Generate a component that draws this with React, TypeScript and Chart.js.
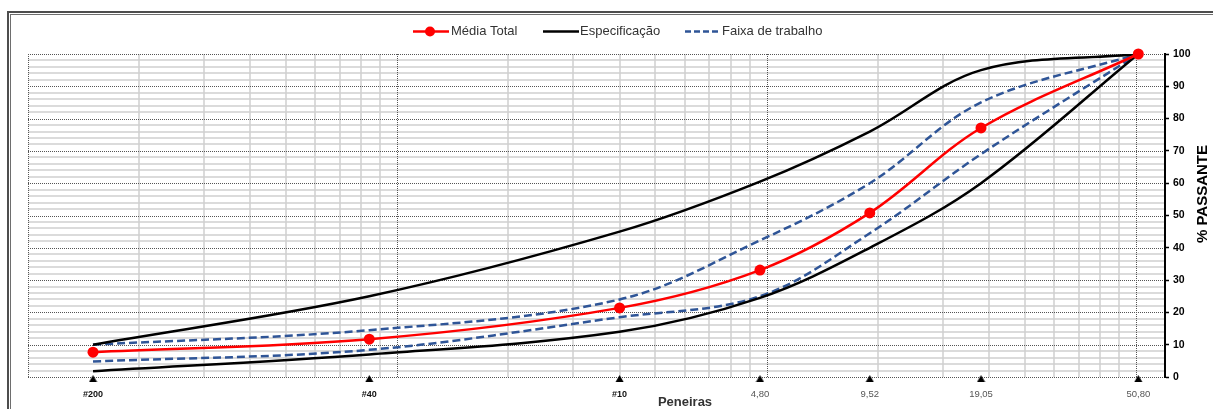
import { useEffect, useRef } from "react";
import { Chart, registerables } from "chart.js";

Chart.register(...registerables);

// Peneiras (abertura em mm) e seus rótulos
const sieveSizes = [0.075, 0.42, 2.0, 4.8, 9.52, 19.05, 50.8];
const sieveLabels = ["#200", "#40", "#10", "4,80", "9,52", "19,05", "50,80"];

// % passante
const mediaTotal = [7.7, 11.7, 21.4, 33.1, 50.8, 77.1, 100];
const especSuperior = [10, 25, 45, 60.5, 76, 95, 100];
const especInferior = [1.8, 7, 14, 24.5, 40, 60, 100];
const faixaSuperior = [10, 14.5, 24, 42.3, 60, 85, 100];
const faixaInferior = [4.8, 8.4, 18.5, 25, 44.5, 69, 100];
const sieveMarks = [0, 0, 0, 0, 0, 0, 0];

const legendLabels = ["Média Total", "Especificação", "Faixa de trabalho"];

// Grade logarítmica: décadas iniciando em 0,05 mm
const gridDecades = [0.05, 0.5, 5, 50];
const gridMultiples = [1, 2, 3, 4, 5, 6, 7, 8, 9];

const X_MIN = 0.05;
const X_MAX = 60;
const FONT = "'Liberation Sans', Arial, Helvetica, sans-serif";
const RED = "#ff0000";
const BLUE = "#2f5597";

const toPoints = (ys: number[]) => sieveSizes.map((x, i) => ({ x, y: ys[i] }));

// Marcador triangular das peneiras, desenhado logo abaixo da linha de base
function makeSieveMarker(): HTMLCanvasElement {
  const c = document.createElement("canvas");
  c.width = 9;
  c.height = 16;
  const g = c.getContext("2d")!;
  g.fillStyle = "#000";
  g.beginPath();
  g.moveTo(4.5, 6);
  g.lineTo(8.5, 13);
  g.lineTo(0.5, 13);
  g.closePath();
  g.fill();
  return c;
}

const gridPlugin = {
  id: "gradeGranulometrica",
  beforeDraw(chart: any) {
    const { ctx, chartArea: a, scales } = chart;
    const sx = scales.x;
    const sy = scales.y;
    ctx.save();
    // linhas secundárias
    ctx.strokeStyle = "#d0d0d0";
    ctx.lineWidth = 1.5;
    ctx.beginPath();
    for (let v = 0; v <= 100; v += 2) {
      if (v % 10 === 0) continue;
      const y = Math.round(sy.getPixelForValue(v));
      ctx.moveTo(a.left, y);
      ctx.lineTo(a.right, y);
    }
    for (const d of gridDecades) {
      for (const k of gridMultiples) {
        const v = d * k;
        if (k === 1 || v > X_MAX) continue;
        const x = Math.round(sx.getPixelForValue(v));
        ctx.moveTo(x, a.top);
        ctx.lineTo(x, a.bottom);
      }
    }
    ctx.stroke();
    // linhas principais pontilhadas
    ctx.strokeStyle = "#555555";
    ctx.lineWidth = 1;
    ctx.setLineDash([1, 1]);
    ctx.beginPath();
    for (let v = 0; v <= 100; v += 10) {
      const y = Math.round(sy.getPixelForValue(v)) + 0.5;
      ctx.moveTo(a.left, y);
      ctx.lineTo(a.right, y);
    }
    for (const d of gridDecades) {
      const x = Math.round(sx.getPixelForValue(d)) + 0.5;
      ctx.moveTo(x, a.top);
      ctx.lineTo(x, a.bottom);
    }
    ctx.stroke();
    ctx.restore();
  },
};

const textPlugin = {
  id: "textosGranulometria",
  afterDraw(chart: any) {
    const { ctx } = chart;
    ctx.save();
    // legenda
    const ly = 31.5;
    ctx.lineWidth = 2.5;
    ctx.strokeStyle = RED;
    ctx.beginPath();
    ctx.moveTo(413, ly);
    ctx.lineTo(449, ly);
    ctx.stroke();
    ctx.fillStyle = RED;
    ctx.beginPath();
    ctx.arc(430, ly, 5, 0, Math.PI * 2);
    ctx.fill();
    ctx.strokeStyle = "#000";
    ctx.beginPath();
    ctx.moveTo(543, ly);
    ctx.lineTo(579, ly);
    ctx.stroke();
    ctx.strokeStyle = BLUE;
    ctx.setLineDash([6, 3]);
    ctx.beginPath();
    ctx.moveTo(685, ly);
    ctx.lineTo(720, ly);
    ctx.stroke();
    ctx.setLineDash([]);
    ctx.fillStyle = "#333333";
    ctx.font = `13px ${FONT}`;
    ctx.textBaseline = "middle";
    ctx.textAlign = "left";
    ctx.fillText(legendLabels[0], 451, ly);
    ctx.fillText(legendLabels[1], 580, ly);
    ctx.fillText(legendLabels[2], 722, ly);
    // título do eixo x
    ctx.fillStyle = "#333333";
    ctx.font = `bold 13px ${FONT}`;
    ctx.textAlign = "center";
    ctx.fillText("Peneiras", 685, 402);
    // título do eixo y
    ctx.translate(1203, 194);
    ctx.rotate(-Math.PI / 2);
    ctx.fillStyle = "#000";
    ctx.font = `bold 15px ${FONT}`;
    ctx.fillText("% PASSANTE", 0, 0);
    ctx.restore();
  },
};

export default function App() {
  const canvasRef = useRef<HTMLCanvasElement>(null);

  useEffect(() => {
    const canvas = canvasRef.current;
    if (!canvas) return;
    const chart = new Chart(canvas, {
      type: "line",
      data: {
        datasets: [
          {
            label: "Peneiras",
            data: toPoints(sieveMarks),
            showLine: false,
            pointStyle: makeSieveMarker(),
            pointRadius: 5,
            clip: false,
            order: 0,
          },
          {
            label: legendLabels[0],
            data: toPoints(mediaTotal),
            borderColor: RED,
            borderWidth: 2.5,
            pointRadius: 5.5,
            pointBackgroundColor: RED,
            pointBorderWidth: 0,
            tension: 0.35,
            clip: false,
            order: 1,
          },
          {
            label: legendLabels[1],
            data: toPoints(especSuperior),
            borderColor: "#000",
            borderWidth: 2.5,
            pointRadius: 0,
            tension: 0.35,
            order: 2,
          },
          {
            label: legendLabels[1],
            data: toPoints(especInferior),
            borderColor: "#000",
            borderWidth: 2.5,
            pointRadius: 0,
            tension: 0.35,
            order: 2,
          },
          {
            label: legendLabels[2],
            data: toPoints(faixaSuperior),
            borderColor: BLUE,
            borderWidth: 2.5,
            borderDash: [8, 4],
            pointRadius: 0,
            tension: 0.35,
            order: 3,
          },
          {
            label: legendLabels[2],
            data: toPoints(faixaInferior),
            borderColor: BLUE,
            borderWidth: 2.5,
            borderDash: [8, 4],
            pointRadius: 0,
            tension: 0.35,
            order: 3,
          },
        ],
      },
      options: {
        animation: false,
        responsive: false,
        devicePixelRatio: 1,
        layout: { padding: { top: 54, left: 28, right: 0, bottom: 0 } },
        plugins: {
          legend: { display: false },
          tooltip: { enabled: false },
        },
        scales: {
          x: {
            type: "logarithmic",
            min: X_MIN,
            max: X_MAX,
            afterBuildTicks: (axis: any) => {
              axis.ticks = sieveSizes.map((value) => ({ value }));
            },
            afterFit: (axis: any) => {
              axis.height = 32;
            },
            grid: { display: false, drawTicks: false },
            border: { display: false },
            ticks: {
              autoSkip: false,
              maxRotation: 0,
              padding: 12,
              callback: (_v: any, i: number) => sieveLabels[i],
              font: (c: any) =>
                sieveLabels[c.index]?.startsWith("#")
                  ? { family: FONT, size: 9, weight: "bold" }
                  : { family: FONT, size: 9.5, weight: "normal" },
              color: (c: any) => (sieveLabels[c.index]?.startsWith("#") ? "#111" : "#555"),
            },
          },
          y: {
            position: "right",
            min: 0,
            max: 100,
            afterFit: (axis: any) => {
              axis.width = 48;
            },
            ticks: {
              stepSize: 10,
              padding: 4,
              color: "#000",
              font: { family: FONT, size: 10.5, weight: "bold" },
            },
            grid: {
              drawOnChartArea: false,
              drawTicks: true,
              tickLength: 4,
              tickColor: "#000",
              tickWidth: 1.5,
            },
            border: { display: true, color: "#000", width: 2 },
          },
        },
      },
      plugins: [gridPlugin, textPlugin],
    });
    return () => chart.destroy();
  }, []);

  return (
    <div style={{ position: "relative", width: 1213, height: 409, overflow: "hidden" }}>
      <style>{`body{margin:0;overflow:hidden;background:#fff}`}</style>
      <div
        style={{
          position: "absolute",
          left: 7,
          top: 11,
          width: 1240,
          height: 440,
          border: "2px solid #4d4d4d",
          boxSizing: "border-box",
        }}
      >
        <div
          style={{
            position: "absolute",
            left: 1,
            top: 1,
            right: 1,
            bottom: 1,
            border: "1px solid #6e6e6e",
          }}
        />
      </div>
      <canvas
        ref={canvasRef}
        width={1213}
        height={409}
        style={{ position: "absolute", left: 0, top: 0, width: 1213, height: 409 }}
      />
    </div>
  );
}
